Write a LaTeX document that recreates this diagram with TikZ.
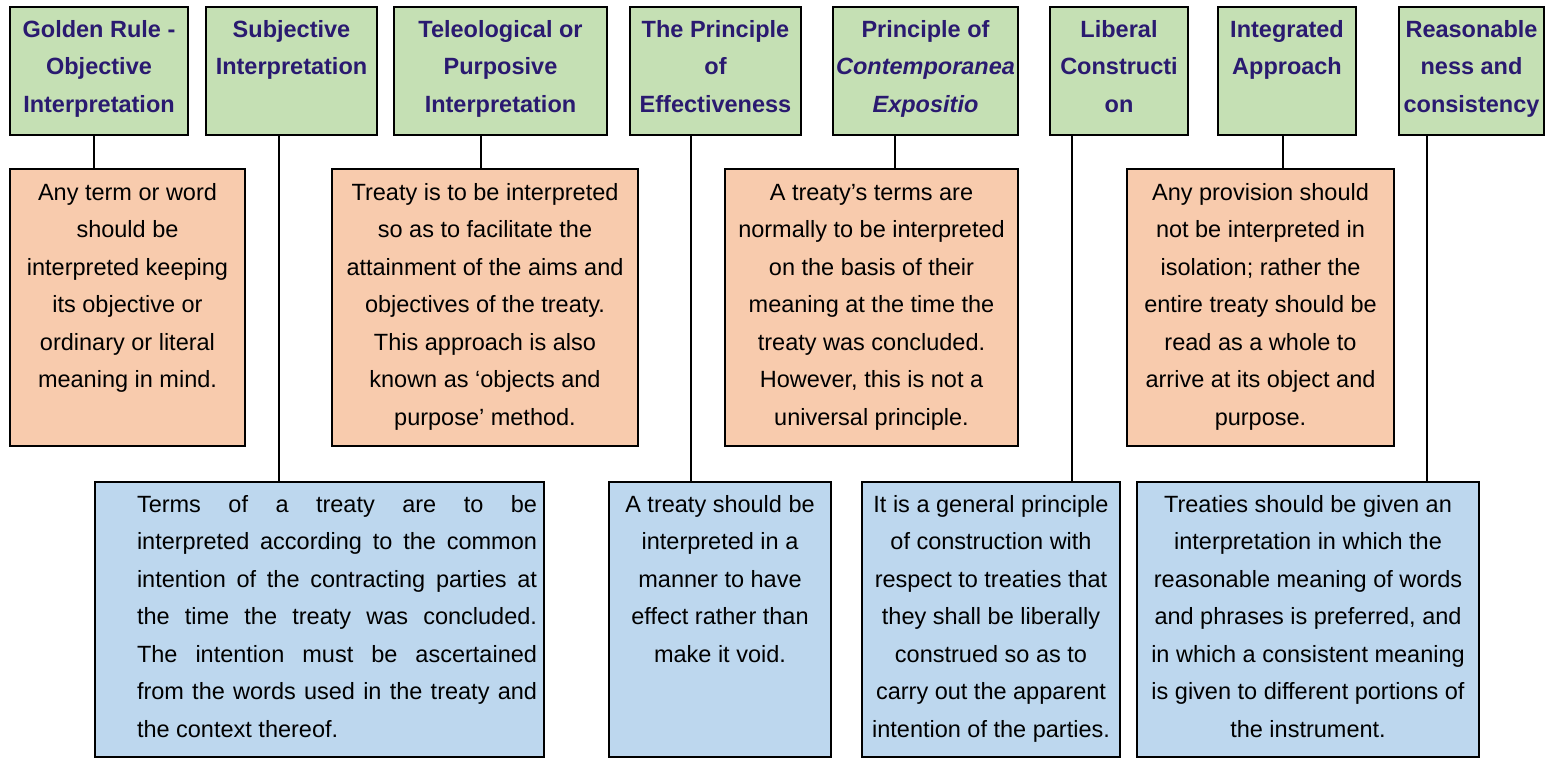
\documentclass[tikz,border=0pt]{standalone}
\usepackage{fontspec}
\setmainfont{Liberation Sans}
\definecolor{gfill}{HTML}{C5E0B4}
\definecolor{ofill}{HTML}{F8CBAD}
\definecolor{bfill}{HTML}{BDD7EE}
\definecolor{navy}{HTML}{2A1A70}
\newcommand\boxtxt[4]{\parbox[c][#2][t]{#1}{\centering\rule{0pt}{#3}#4\par}}
\tikzset{
 box/.style={draw=black, line width=2pt, inner sep=0pt, outer sep=0pt, anchor=north west, font=\fontsize{23.5pt}{37.5pt}\selectfont},
 gbox/.style={box, fill=gfill, text=navy, font=\fontsize{23.5pt}{37.5pt}\selectfont\bfseries},
 obox/.style={box, fill=ofill},
 bbox/.style={box, fill=bfill},
 conn/.style={line width=2pt, draw=black}
}
\begin{document}
\begin{tikzpicture}[x=1pt,y=-1pt]
\useasboundingbox (0,0) rectangle (1549,760);
% green headings
\node[gbox] (G1) at (10,7) {\boxtxt{178pt}{128pt}{30pt}{Golden Rule -\\Objective\\Interpretation}};
\node[gbox] (G2) at (206,7) {\boxtxt{171pt}{128pt}{30pt}{Subjective\\Interpretation}};
\node[gbox] (G3) at (394,7) {\boxtxt{213pt}{128pt}{30pt}{Teleological or\\Purposive\\Interpretation}};
\node[gbox] (G4) at (630,7) {\boxtxt{171pt}{128pt}{30pt}{The Principle\\of\\Effectiveness}};
\node[gbox] (G5) at (833,7) {\boxtxt{185pt}{128pt}{30pt}{Principle of\\\textit{Contemporanea}\\\textit{Expositio}}};
\node[gbox] (G6) at (1050,7) {\boxtxt{138pt}{128pt}{30pt}{Liberal\\Constructi\\on}};
\node[gbox] (G7) at (1218,7) {\boxtxt{138pt}{128pt}{30pt}{Integrated\\Approach}};
\node[gbox] (G8) at (1399,7) {\boxtxt{145pt}{128pt}{30pt}{Reasonable\\ness and\\consistency}};
% orange boxes
\node[obox] (O1) at (10,169) {\boxtxt{235pt}{277pt}{31pt}{Any term or word\\should be\\interpreted keeping\\its objective or\\ordinary or literal\\meaning in mind.}};
\node[obox] (O2) at (332,169) {\boxtxt{306pt}{277pt}{31pt}{Treaty is to be interpreted\\so as to facilitate the\\attainment of the aims and\\objectives of the treaty.\\This approach is also\\known as ‘objects and\\purpose’ method.}};
\node[obox] (O3) at (725,169) {\boxtxt{293pt}{277pt}{31pt}{A treaty’s terms are\\normally to be interpreted\\on the basis of their\\meaning at the time the\\treaty was concluded.\\However, this is not a\\universal principle.}};
\node[obox] (O4) at (1127,169) {\boxtxt{267pt}{277pt}{31pt}{Any provision should\\not be interpreted in\\isolation; rather the\\entire treaty should be\\read as a whole to\\arrive at its object and\\purpose.}};
% blue boxes
\node[bbox] (B1) at (95,482) {\parbox[c][275pt][t]{449pt}{\leftskip=42pt\rule{0pt}{30pt}%
\makebox[400pt][s]{Terms of a treaty are to be}\\
\makebox[400pt][s]{interpreted according to the common}\\
\makebox[400pt][s]{intention of the contracting parties at}\\
\makebox[400pt][s]{the time the treaty was concluded.}\\
\makebox[400pt][s]{The intention must be ascertained}\\
\makebox[400pt][s]{from the words used in the treaty and}\\
the context thereof.\par}};
\node[bbox] (B2) at (609,482) {\boxtxt{222pt}{275pt}{30pt}{A treaty should be\\interpreted in a\\manner to have\\effect rather than\\make it void.}};
\node[bbox] (B3) at (862,482) {\boxtxt{258pt}{275pt}{30pt}{It is a general principle\\of construction with\\respect to treaties that\\they shall be liberally\\construed so as to\\carry out the apparent\\intention of the parties.}};
\node[bbox] (B4) at (1137,482) {\boxtxt{342pt}{275pt}{30pt}{Treaties should be given an\\interpretation in which the\\reasonable meaning of words\\and phrases is preferred, and\\in which a consistent meaning\\is given to different portions of\\the instrument.}};
% connectors
\draw[conn] ([xshift=-5pt]G1.south) -- ([xshift=-5pt]G1.south |- O1.north);
\draw[conn] ([xshift=-12.5pt]G2.south) -- ([xshift=-12.5pt]G2.south |- B1.north);
\draw[conn] ([xshift=-19.5pt]G3.south) -- ([xshift=-19.5pt]G3.south |- O2.north);
\draw[conn] ([xshift=-24.5pt]G4.south) -- ([xshift=-24.5pt]G4.south |- B2.north);
\draw[conn] ([xshift=-30.5pt]G5.south) -- ([xshift=-30.5pt]G5.south |- O3.north);
\draw[conn] ([xshift=-47pt]G6.south) -- ([xshift=-47pt]G6.south |- B3.north);
\draw[conn] ([xshift=-4pt]G7.south) -- ([xshift=-4pt]G7.south |- O4.north);
\draw[conn] ([xshift=-44.5pt]G8.south) -- ([xshift=-44.5pt]G8.south |- B4.north);
\end{tikzpicture}
\end{document}
